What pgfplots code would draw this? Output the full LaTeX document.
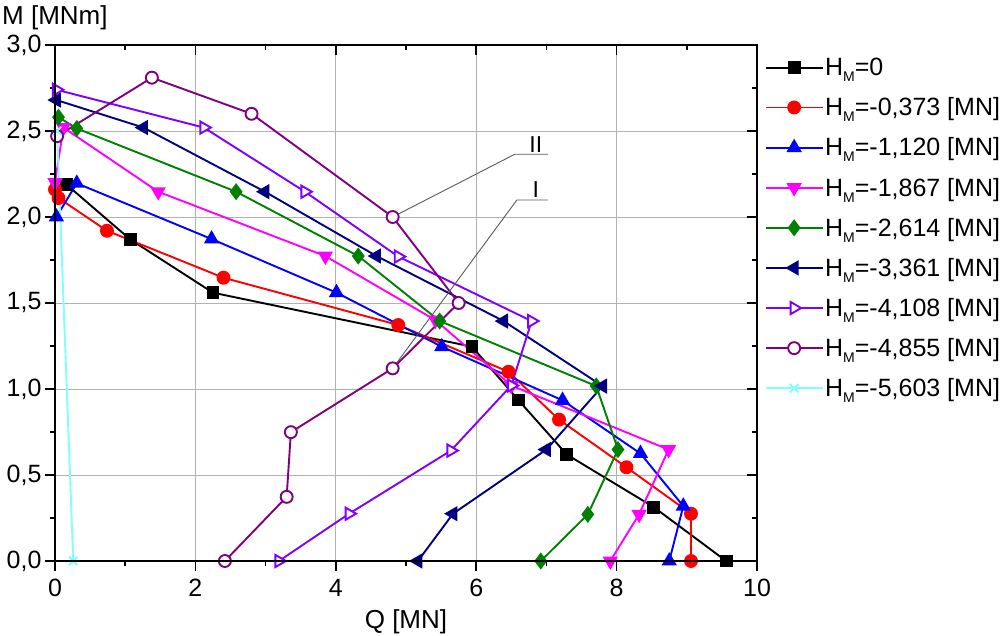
\documentclass[border=0pt]{standalone}
\usepackage{pgfplots}
\pgfplotsset{compat=1.18}
\usepackage{fontspec}
\setmainfont{Liberation Sans}
\definecolor{cRed}{RGB}{255,0,0}
\definecolor{cBlue}{RGB}{0,0,255}
\definecolor{cMag}{RGB}{255,0,255}
\definecolor{cGreen}{RGB}{0,128,0}
\definecolor{cNavy}{RGB}{0,0,128}
\definecolor{cViolet}{RGB}{128,0,255}
\definecolor{cPurple}{RGB}{128,0,128}
\definecolor{cCyan}{RGB}{128,255,255}
\newcommand{\HM}{H\raisebox{-6pt}{\fontsize{14}{14}\selectfont M}}
\begin{document}
\begin{tikzpicture}
\pgfplotsset{
  common/.style={
    at={(0pt,0pt)}, anchor=south west,
    scale only axis, width=702pt, height=516pt,
    xmin=0, xmax=10, ymin=0, ymax=3,
    xtick={0,2,4,6,8,10}, minor xtick={1,3,5,7,9},
    ytick={0,0.5,1,1.5,2,2.5,3}, minor ytick={0.25,0.75,1.25,1.75,2.25,2.75},
    major tick length=10pt, minor tick length=5pt,
    every tick/.style={black, line width=1.6pt},
    axis line style={line width=2.2pt},
  }
}
\begin{axis}[common,
  grid=major, major grid style={gray!60, line width=0.9pt},
  tick align=outside, xtick pos=left, ytick pos=left,
  ticklabel style={font=\fontsize{25}{30}\selectfont},
  x tick label style={yshift=-5pt},
  /pgf/number format/assume math mode=true,
  y tick label style={/pgf/number format/.cd, fixed, fixed zerofill, precision=1, use comma, /tikz/.cd},
  xlabel={Q [MN]},
  xlabel style={font=\fontsize{26}{31}\selectfont, yshift=-6pt},
  legend style={at={(1,1)}, anchor=north west, xshift=8pt, yshift=-12pt, draw=none, fill=none,
    font=\fontsize{25}{29}\selectfont, row sep=18.5pt, inner sep=0pt,
    nodes={inner sep=1pt}},
  legend cell align=left,
  legend image code/.code={\draw[mark repeat=2,mark phase=2] plot coordinates {(0pt,0pt) (28pt,0pt) (57pt,0pt)};},
  every axis plot/.append style={line width=1.9pt},
]
\addplot[black, mark=square*, mark size=5.5pt, mark options={solid}] coordinates {
 (0.16,2.19) (1.07,1.87) (2.25,1.56) (5.94,1.246) (6.6,0.936) (7.29,0.619) (8.53,0.313) (9.56,0)};
\addlegendentry{\HM=0}
\addplot[cRed, mark=*, mark size=6pt, mark options={solid}] coordinates {
 (0.0,2.16) (0.05,2.11) (0.74,1.92) (2.40,1.647) (4.89,1.372) (6.46,1.10) (7.18,0.822) (8.14,0.545) (9.06,0.275) (9.06,0)};
\addlegendentry{\HM=-0,373 [MN]}
\addplot[cBlue, mark=triangle*, mark size=7pt, mark options={solid}] coordinates {
 (0.02,2.0) (0.31,2.196) (2.23,1.872) (4.01,1.56) (5.51,1.246) (7.23,0.934) (8.34,0.625) (8.95,0.319) (8.75,0)};
\addlegendentry{\HM=-1,120 [MN]}
\addplot[cMag, mark=triangle*, mark size=7pt, mark options={solid, rotate=180}] coordinates {
 (0.0,2.2) (0.12,2.52) (1.47,2.147) (3.85,1.773) (5.42,1.40) (6.5,1.02) (8.74,0.648) (8.32,0.271) (7.91,0)};
\addlegendentry{\HM=-1,867 [MN]}
\addplot[cGreen, mark=diamond*, mark size=7pt, mark options={solid}] coordinates {
 (0.05,2.58) (0.31,2.515) (2.58,2.147) (4.32,1.773) (5.48,1.395) (7.71,1.017) (8.02,0.648) (7.59,0.271) (6.92,0)};
\addlegendentry{\HM=-2,614 [MN]}
\addplot[cNavy, mark=triangle*, mark size=7pt, mark options={solid, rotate=90}] coordinates {
 (0.02,2.68) (1.26,2.52) (2.99,2.147) (4.58,1.773) (6.39,1.395) (7.80,1.017) (7.0,0.648) (5.67,0.275) (5.17,0)};
\addlegendentry{\HM=-3,361 [MN]}
\addplot[cViolet, mark=triangle*, mark size=7pt, mark options={solid, rotate=-90, fill=white}] coordinates {
 (0.02,2.74) (2.12,2.52) (3.56,2.147) (4.89,1.77) (6.79,1.395) (6.5,1.02) (5.64,0.642) (4.19,0.275) (3.19,0)};
\addlegendentry{\HM=-4,108 [MN]}
\addplot[cPurple, mark=*, mark size=6pt, mark options={solid, fill=white}] coordinates {
 (0.03,2.47) (1.38,2.81) (2.80,2.60) (4.81,2.0) (5.75,1.5) (4.81,1.12) (3.36,0.749) (3.30,0.373) (2.42,0)};
\addlegendentry{\HM=-4,855 [MN]}
\addplot[cCyan, mark=x, mark size=6pt, mark options={solid}] coordinates {
 (0.03,2.5) (0.26,0)};
\addlegendentry{\HM=-5,603 [MN]}
\draw[gray!70!black, line width=0.9pt, shorten <=6pt] (axis cs:4.81,2.0) -- (axis cs:6.55,2.365) -- (axis cs:7.02,2.365);
\node[anchor=south, inner sep=1pt, font=\fontsize{23}{27}\selectfont] at (axis cs:6.85,2.37) {II};
\draw[gray!70!black, line width=0.9pt, shorten <=6pt] (axis cs:4.81,1.12) -- (axis cs:6.58,2.099) -- (axis cs:7.02,2.099);
\node[anchor=south, inner sep=1pt, font=\fontsize{23}{27}\selectfont] at (axis cs:6.85,2.105) {I};
\end{axis}
\begin{axis}[common,
  tick align=inside, xtick pos=right, ytick pos=right,
  xticklabels={}, yticklabels={},
]
\end{axis}
\node[anchor=base west, inner sep=0pt, font=\fontsize{26}{31}\selectfont] at (-53pt,536pt) {M [MNm]};
\pgfresetboundingbox
\useasboundingbox (-55pt,-75pt) rectangle (953pt,561pt);
\end{tikzpicture}
\end{document}
